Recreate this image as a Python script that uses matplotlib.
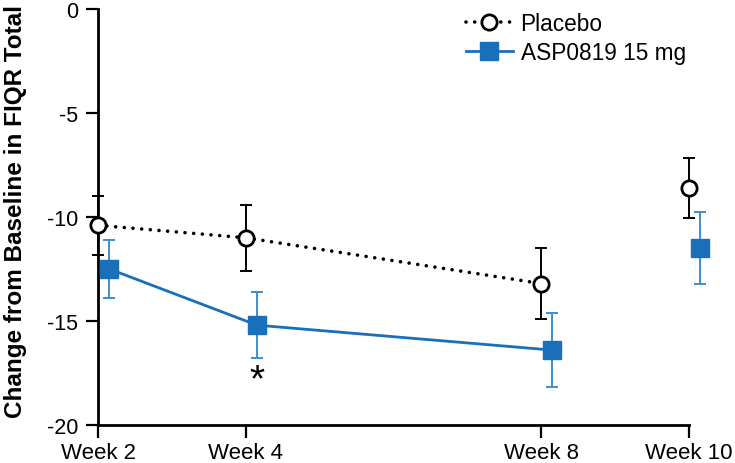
import matplotlib
matplotlib.use("Agg")
import matplotlib.pyplot as plt
from matplotlib.lines import Line2D

plt.rcParams["font.family"] = ["Liberation Sans", "DejaVu Sans"]

weeks = [2, 4, 8, 10]
week_labels = ["Week 2", "Week 4", "Week 8", "Week 10"]

placebo_mean = [-10.4, -11.0, -13.2, -8.6]
placebo_err = [1.42, 1.58, 1.72, 1.45]

asp_mean = [-12.5, -15.2, -16.4, -11.5]
asp_err = [1.4, 1.6, 1.77, 1.73]

blue = "#1a6fbb"
blue_err = "#3d8fd0"


def main():
    fig = plt.figure(figsize=(7.35, 4.64), dpi=100)
    ax = fig.add_axes([0.1337, 0.0819, 0.8037, 0.8965])

    # placebo: dotted line between weeks 2-8, week 10 stands alone
    ax.plot(weeks[:3], placebo_mean[:3], color="black", lw=2.6,
            linestyle=(0, (0.01, 2.4)), dash_capstyle="round", zorder=2, clip_on=False)
    ax.errorbar(weeks, placebo_mean, yerr=placebo_err, fmt="none", ecolor="black",
                elinewidth=1.4, capsize=4.6, capthick=1.4, zorder=3, clip_on=False)
    ax.plot(weeks, placebo_mean, "o", ms=11, mfc="white", mec="black", mew=2.0,
            zorder=4, clip_on=False)

    off = 0.15
    ax_x = [w + off for w in weeks]
    ax.plot(ax_x[:3], asp_mean[:3], color=blue, lw=2.0, zorder=2, clip_on=False)
    ax.errorbar(ax_x, asp_mean, yerr=asp_err, fmt="none", ecolor=blue_err,
                elinewidth=1.4, capsize=4.6, capthick=1.4, zorder=3, clip_on=False)
    ax.plot(ax_x, asp_mean, "s", ms=12.5, mfc=blue, mec=blue, zorder=4, clip_on=False)

    ax.text(4 + off, -18.35, "*", fontsize=28, ha="center", va="baseline")

    ax.set_xlim(2, 10)
    ax.set_ylim(-20, 0)
    ax.set_xticks(weeks)
    ax.set_xticklabels(week_labels)
    ax.set_yticks([0, -5, -10, -15, -20])
    ax.set_yticklabels(["0", "-5", "-10", "-15", "-20"])
    ax.tick_params(direction="out", length=9, width=1.6)
    ax.tick_params(axis="x", labelsize=16, pad=3)
    ax.tick_params(axis="y", labelsize=15.5, pad=5.5)

    for s in ["top", "right"]:
        ax.spines[s].set_visible(False)
    for s in ["left", "bottom"]:
        ax.spines[s].set_linewidth(2.0)

    ax.set_ylabel("Change from Baseline in FIQR Total", fontsize=17.5,
                  fontweight="bold")
    ax.yaxis.set_label_coords(-0.121, 0.515)

    h1 = Line2D([], [], color="black", lw=2.6, linestyle=(0, (0.01, 2.4)),
                dash_capstyle="round", marker="o", ms=11, mfc="white", mec="black", mew=2.0)
    h2 = Line2D([], [], color=blue, lw=2.0, marker="s", ms=12.5, mfc=blue, mec=blue)
    ax.legend([h1, h2], ["Placebo", "ASP0819 15 mg"], loc="upper left",
              bbox_to_anchor=(0.603, 1.02), frameon=False, fontsize=16.3,
              handlelength=2.07, handletextpad=0.35, labelspacing=0.25, borderpad=0)

    fig.savefig("out.png", dpi=100)
    plt.close(fig)


if __name__ == "__main__":
    main()
